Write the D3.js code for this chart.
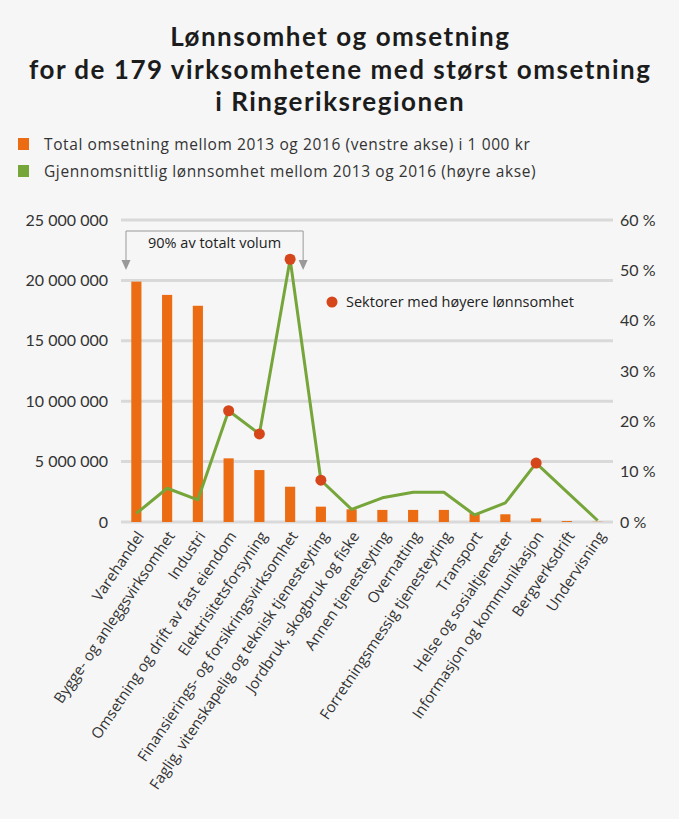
<!DOCTYPE html>
<html><head><meta charset="utf-8">
<script src="https://cdn.jsdelivr.net/npm/d3@7/dist/d3.min.js"></script>
<style>
html,body{margin:0;padding:0;background:#f6f6f6;}
svg{display:block;}
</style></head>
<body>
<script>
const categories = ["Varehandel","Bygge- og anleggsvirksomhet","Industri","Omsetning og drift av fast eiendom","Elektrisitetsforsyning","Finansierings- og forsikringsvirksomhet","Faglig, vitenskapelig og teknisk tjenesteyting","Jordbruk, skogbruk og fiske","Annen tjenesteyting","Overnatting","Forretningsmessig tjenesteyting","Transport","Helse og sosialtjenester","Informasjon og kommunikasjon","Bergverksdrift","Undervisning"];
const omsetning = [19900000,18800000,17900000,5270000,4300000,2920000,1270000,1050000,1000000,1000000,1000000,720000,640000,300000,80000,20000];
const lonnsomhet = [1.7,6.7,4.4,22.1,17.5,52.2,8.3,2.5,4.8,5.9,5.9,1.4,3.8,11.7,6.0,0.3];
const hoyere = [false,false,false,true,true,true,true,false,false,false,false,false,false,true,false,false];
const leftTicks = [0,5000000,10000000,15000000,20000000,25000000];
const rightTicks = [0,10,20,30,40,50,60];
const titleLines = ["Lønnsomhet og omsetning","for de 179 virksomhetene med størst omsetning","i Ringeriksregionen"];
const legendItems = [{label:"Total omsetning mellom 2013 og 2016 (venstre akse) i 1 000 kr",color:"#ec6c14"},{label:"Gjennomsnittlig lønnsomhet mellom 2013 og 2016 (høyre akse)",color:"#76a53a"}];
const annotationText = "90% av totalt volum";
const dotLegendText = "Sektorer med høyere lønnsomhet";

const W=679,H=819;
const font="'Open Sans', Lato, sans-serif";
const font2="Lato, 'Open Sans', sans-serif";
const svg=d3.select("body").append("svg").attr("width",W).attr("height",H);
svg.append("rect").attr("width",W).attr("height",H).attr("fill","#f6f6f6");

// title
svg.append("g").selectAll("text").data(titleLines).join("text")
 .attr("x",W/2+0.75).attr("y",(d,i)=>46+i*32.5).attr("text-anchor","middle")
 .attr("font-family",font2).attr("font-weight",700).attr("font-size",26).attr("letter-spacing",1.5).attr("fill","#1c1c1c").text(d=>d);

// legend
const lg=svg.append("g").selectAll("g").data(legendItems).join("g").attr("transform",(d,i)=>`translate(18,${138+i*27})`);
lg.append("rect").attr("width",11).attr("height",12).attr("fill",d=>d.color);
lg.append("text").attr("x",26).attr("y",11.5).attr("font-family",font).attr("font-size",15.5).attr("letter-spacing",0.6).attr("fill","#333").text(d=>d.label);

const x0=121,x1=613,yTop=220,yBot=522;
const x=d3.scaleBand().domain(categories).range([x0,x1]).paddingInner(0.67).paddingOuter(0.335);
const yL=d3.scaleLinear().domain([0,25000000]).range([yBot,yTop]);
const yR=d3.scaleLinear().domain([0,60]).range([yBot,yTop]);
const loc=d3.formatLocale({decimal:",",thousands:" ",grouping:[3],currency:["","kr"]});
const fmt=loc.format(",d");

// gridlines
svg.append("g").selectAll("line").data(leftTicks).join("line")
 .attr("x1",x0).attr("x2",x1).attr("y1",d=>yL(d)).attr("y2",d=>yL(d))
 .attr("stroke","#d9d9d9").attr("stroke-width",3);

// left axis
const la=svg.append("g").attr("transform",`translate(${x0},0)`).call(d3.axisLeft(yL).tickValues(leftTicks).tickFormat(fmt).tickSize(0).tickPadding(13));
la.select(".domain").remove();
la.selectAll("text").attr("font-family",font2).attr("font-size",16).attr("fill","#333");

// right axis
const ra=svg.append("g").attr("transform",`translate(${x1},0)`).call(d3.axisRight(yR).tickValues(rightTicks).tickFormat(d=>d+" %").tickSize(0).tickPadding(7));
ra.select(".domain").remove();
ra.selectAll("text").attr("font-family",font2).attr("font-size",16).attr("fill","#333");

// bars
svg.append("g").selectAll("rect").data(categories).join("rect")
 .attr("x",d=>x(d)).attr("width",x.bandwidth())
 .attr("y",(d,i)=>yL(omsetning[i])).attr("height",(d,i)=>yL(0)-yL(omsetning[i]))
 .attr("fill","#ec6c14");

// line
const cx=d=>x(d)+x.bandwidth()/2;
svg.append("path").datum(categories).attr("fill","none").attr("stroke","#76a53a").attr("stroke-width",3).attr("stroke-linejoin","round")
 .attr("d",d3.line().x(d=>cx(d)).y((d,i)=>yR(lonnsomhet[i])));

// dots
svg.append("g").selectAll("circle").data(categories.map((c,i)=>({c,i})).filter(d=>hoyere[d.i])).join("circle")
 .attr("cx",d=>cx(d.c)).attr("cy",d=>yR(lonnsomhet[d.i])).attr("r",5.5).attr("fill","#d5471a");

// x labels
svg.append("g").selectAll("text").data(categories).join("text")
 .attr("transform",d=>`translate(${cx(d)+4},${533}) rotate(-56)`)
 .attr("text-anchor","end").attr("dy","0.35em")
 .attr("font-family",font).attr("font-size",15).attr("fill","#333").text(d=>d);

// annotation bracket
const ax1=126, ax2=cx(categories[5])+13, ay=231, ayb=262;
svg.append("path").attr("d",`M${ax1},${ayb}V${ay}H${ax2}V${ayb}`).attr("fill","none").attr("stroke","#999").attr("stroke-width",1);
[ax1,ax2].forEach(a=>svg.append("path").attr("d",`M${a-4.5},${ayb-2}L${a+4.5},${ayb-2}L${a},${ayb+8}Z`).attr("fill","#999"));
svg.append("text").attr("x",(ax1+ax2)/2).attr("y",248).attr("text-anchor","middle").attr("font-family",font).attr("font-size",14.5).attr("fill","#222").text(annotationText);

// dot legend
svg.append("circle").attr("cx",332).attr("cy",302).attr("r",5.5).attr("fill","#d5471a");
svg.append("text").attr("x",346).attr("y",307).attr("font-family",font).attr("font-size",14.5).attr("fill","#222").text(dotLegendText);
</script>
</body></html>
